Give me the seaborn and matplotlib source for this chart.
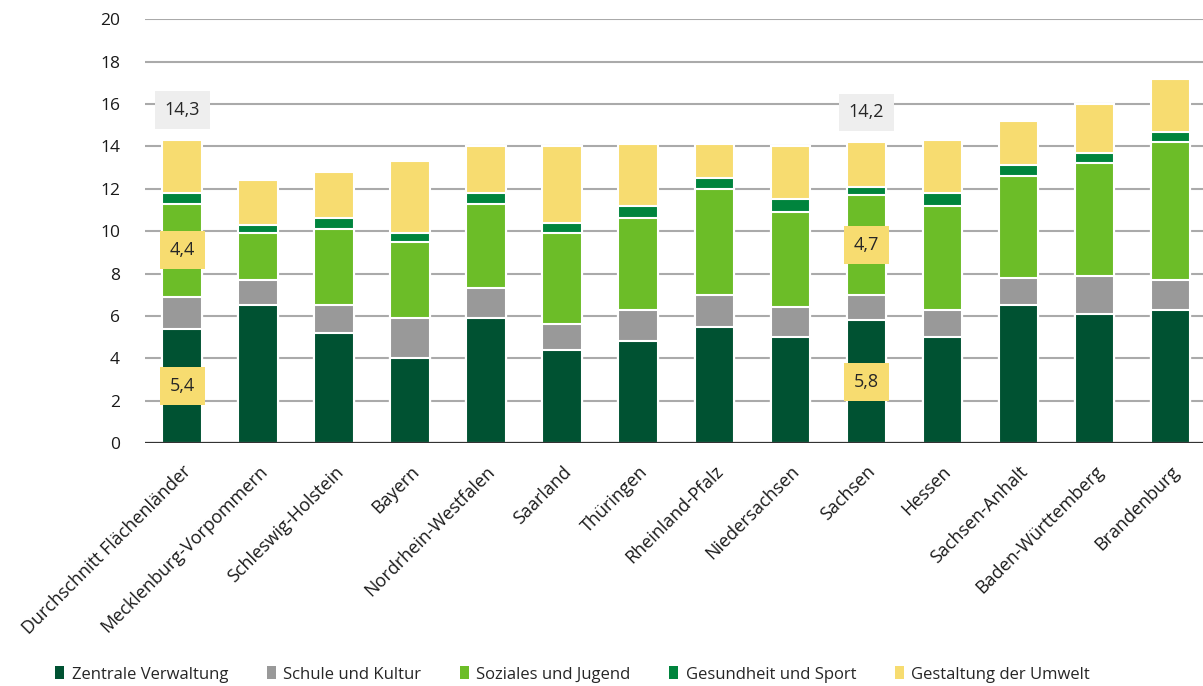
import pandas as pd
import numpy as np
import matplotlib
matplotlib.use('Agg')
import matplotlib.pyplot as plt
import seaborn as sns
from matplotlib.patches import Patch

# Daten
laender = ['Durchschnitt Flächenländer', 'Mecklenburg-Vorpommern', 'Schleswig-Holstein',
           'Bayern', 'Nordrhein-Westfalen', 'Saarland', 'Thüringen', 'Rheinland-Pfalz',
           'Niedersachsen', 'Sachsen', 'Hessen', 'Sachsen-Anhalt', 'Baden-Württemberg',
           'Brandenburg']
zentrale = [5.4, 6.5, 5.2, 4.0, 5.9, 4.4, 4.8, 5.5, 5.0, 5.8, 5.0, 6.5, 6.1, 6.3]
schule = [1.5, 1.2, 1.3, 1.9, 1.4, 1.2, 1.5, 1.5, 1.4, 1.2, 1.3, 1.3, 1.8, 1.4]
soziales = [4.4, 2.2, 3.6, 3.6, 4.0, 4.3, 4.3, 5.0, 4.5, 4.7, 4.9, 4.8, 5.3, 6.5]
gesundheit = [0.5, 0.4, 0.5, 0.4, 0.5, 0.5, 0.6, 0.5, 0.6, 0.4, 0.6, 0.5, 0.5, 0.5]
umwelt = [2.5, 2.1, 2.2, 3.4, 2.2, 3.6, 2.9, 1.6, 2.5, 2.1, 2.5, 2.1, 2.3, 2.5]

kategorien = ['Zentrale Verwaltung', 'Schule und Kultur', 'Soziales und Jugend',
              'Gesundheit und Sport', 'Gestaltung der Umwelt']
farben = ['#005232', '#999999', '#6cbd28', '#00843d', '#f7dc70']

# hervorgehobene Balken (Index)
markiert = [0, 9]

df = pd.DataFrame({'Land': laender, kategorien[0]: zentrale, kategorien[1]: schule,
                   kategorien[2]: soziales, kategorien[3]: gesundheit,
                   kategorien[4]: umwelt})
cum = df[kategorien].cumsum(axis=1)

sns.set_style('white')
plt.rcParams['font.family'] = ['Open Sans', 'DejaVu Sans']

fig = plt.figure(figsize=(12.03, 6.86), dpi=100)
ax = fig.add_axes([0.1205, 0.354, 0.8795, 0.618])

# gestapelte Balken: von oben nach unten zeichnen
for kat, farbe in reversed(list(zip(kategorien, farben))):
    sns.barplot(x=df['Land'], y=cum[kat], color=farbe, ax=ax, width=0.52,
                edgecolor='white', linewidth=1.5, saturation=1, zorder=3)

ax.set_xlim(-0.49, len(laender) - 0.57)
ax.set_ylim(0, 20)
ax.set_yticks(np.arange(0, 21, 2))
ax.yaxis.grid(True, color='#aaaaaa', linewidth=1.5, zorder=0)
ax.set_axisbelow(True)
ax.axhline(0, color='#333333', linewidth=1.6, zorder=4)
for s in ax.spines.values():
    s.set_visible(False)
ax.set_xlabel('')
ax.set_ylabel('')
ax.tick_params(axis='both', length=0, labelsize=12.5, colors='#1a1a1a')
ax.tick_params(axis='y', pad=18)
ax.tick_params(axis='x', pad=14)
plt.setp(ax.get_xticklabels(), rotation=45, ha='right', rotation_mode='anchor',
         fontsize=13)

# Beschriftungen
for i in markiert:
    z = zentrale[i]
    so = soziales[i]
    summe = cum.loc[i, kategorien[-1]]
    box = dict(boxstyle='square,pad=0.55', fc='#f7dc70', ec='none')
    ax.text(i, z / 2, f'{z:.1f}'.replace('.', ','), ha='center', va='center', fontsize=13,
            zorder=5, bbox=box)
    mitte = cum.loc[i, kategorien[1]] + so / 2
    ax.text(i, mitte, f'{so:.1f}'.replace('.', ','), ha='center', va='center', fontsize=13,
            zorder=5, bbox=box)
    ax.text(i, summe + 1.4, f'{summe:.1f}'.replace('.', ','), ha='center', va='center',
            fontsize=13, zorder=5,
            bbox=dict(boxstyle='square,pad=0.55', fc='#eeeeee', ec='none'))

handles = [Patch(facecolor=f, edgecolor='none') for f in farben]
fig.legend(handles, kategorien, loc='lower center', bbox_to_anchor=(0.476, -0.017), ncol=5,
           frameon=False, fontsize=12, handlelength=0.55, handleheight=0.8,
           handletextpad=0.45, columnspacing=2.3)

fig.savefig('out.png', dpi=100)
